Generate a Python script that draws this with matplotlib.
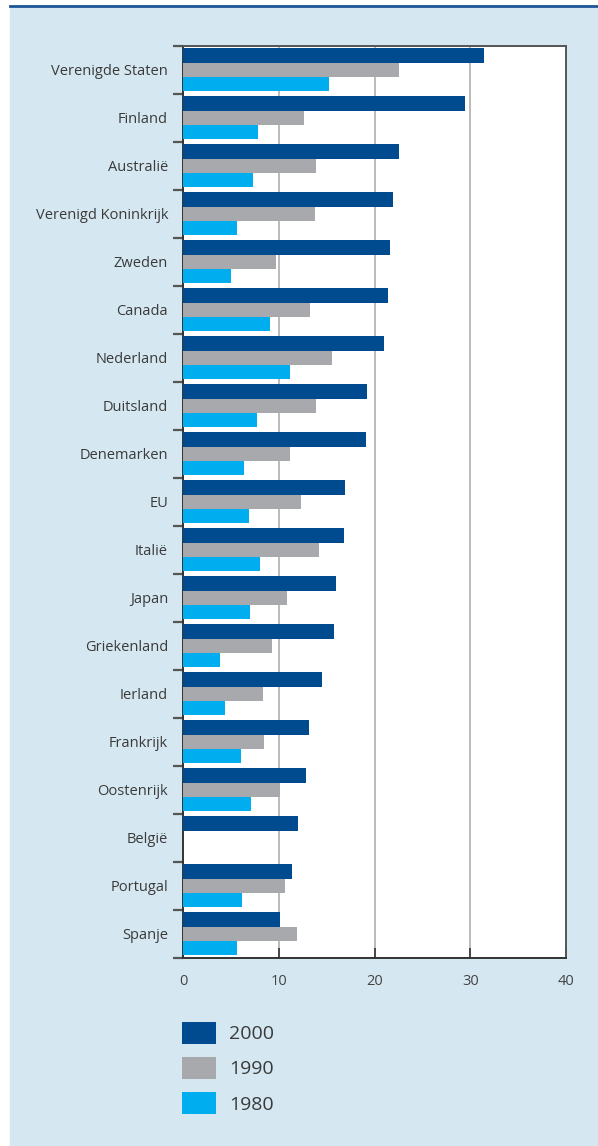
import numpy as np
import matplotlib
matplotlib.use("Agg")
import matplotlib.pyplot as plt
from matplotlib.patches import Rectangle, Patch
from matplotlib.lines import Line2D

plt.rcParams['font.family'] = ['Open Sans', 'DejaVu Sans']

landen = ["Verenigde Staten", "Finland", "Australië", "Verenigd Koninkrijk",
          "Zweden", "Canada", "Nederland", "Duitsland", "Denemarken", "EU",
          "Italië", "Japan", "Griekenland", "Ierland", "Frankrijk",
          "Oostenrijk", "België", "Portugal", "Spanje"]
jaren = ["2000", "1990", "1980"]
waarden_2000 = [31.4, 29.4, 22.5, 21.9, 21.6, 21.4, 21.0, 19.2, 19.1, 16.9,
                16.8, 16.0, 15.7, 14.5, 13.1, 12.8, 12.0, 11.4, 10.1]
waarden_1990 = [22.5, 12.6, 13.9, 13.8, 9.7, 13.2, 15.5, 13.9, 11.2, 12.3,
                14.2, 10.8, 9.3, 8.3, 8.4, 10.1, np.nan, 10.6, 11.9]
waarden_1980 = [15.2, 7.8, 7.3, 5.6, 5.0, 9.1, 11.2, 7.7, 6.3, 6.9,
                8.0, 7.0, 3.8, 4.4, 6.0, 7.1, np.nan, 6.1, 5.6]

kleuren = ["#004a8f", "#a8a9ad", "#00aeef"]
achtergrond = "#d5e7f1"

W, H = 598, 1146
fig = plt.figure(figsize=(W / 100, H / 100), dpi=100, facecolor="white")

# lichtblauw vlak met donkerblauwe lijn erboven
fig.patches.append(Rectangle((10 / W, 0), 1 - 10 / W, 1 - 7.5 / H,
                             transform=fig.transFigure, color=achtergrond, zorder=-5))
fig.add_artist(Line2D([10 / W, 1], [1 - 6.3 / H, 1 - 6.3 / H],
                      transform=fig.transFigure, color="#1c5596", lw=2.0, zorder=-4))

left, right, top, bottom = 183.3, 566, 45.7, 957.7
ax = fig.add_axes([left / W, 1 - bottom / H, (right - left) / W, (bottom - top) / H])
ax.set_facecolor("white")

y = np.arange(len(landen))
h = 0.298
for i, (vals, kleur) in enumerate(zip([waarden_2000, waarden_1990, waarden_1980], kleuren)):
    ax.barh(y + (i - 1) * h, vals, height=h, color=kleur, zorder=3)

ax.set_xlim(0, 40)
ax.set_ylim(len(landen) - 0.5, -0.5)

ax.set_xticks([0, 10, 20, 30, 40])
ax.tick_params(axis="x", direction="in", length=7, width=1.2, color="#333333",
               labelsize=10.5, labelcolor="#444444", pad=12)
for gx in [10, 20, 30]:
    ax.axvline(gx, color="#b5b5b5", lw=1.3, zorder=1)

# landnamen in het midden van elke groep, streepjes op de grenzen
ax.set_yticks(y)
ax.set_yticklabels(landen)
ax.tick_params(axis="y", which="major", length=0, pad=11, labelsize=10.5,
               labelcolor="#3a3a3a")
ax.set_yticks(np.arange(len(landen) + 1) - 0.5, minor=True)
ax.tick_params(axis="y", which="minor", direction="out", length=7, width=1.6,
               color="#555555")

for side in ["left", "bottom"]:
    ax.spines[side].set_color("#333333")
    ax.spines[side].set_linewidth(1.4)
for side in ["top", "right"]:
    ax.spines[side].set_color("#555555")
    ax.spines[side].set_linewidth(1.4)

handles = [Patch(facecolor=k, edgecolor="none") for k in kleuren]
fig.legend(handles, jaren, loc="upper left",
           bbox_to_anchor=(182 / W, 1 - 1022 / H), frameon=False,
           fontsize=14, handlelength=1.75, handleheight=1.35, handletextpad=0.68,
           labelspacing=0.68, borderpad=0, borderaxespad=0,
           labelcolor="#3a3a3a")

fig.savefig("out.png", dpi=100, facecolor=fig.get_facecolor())
